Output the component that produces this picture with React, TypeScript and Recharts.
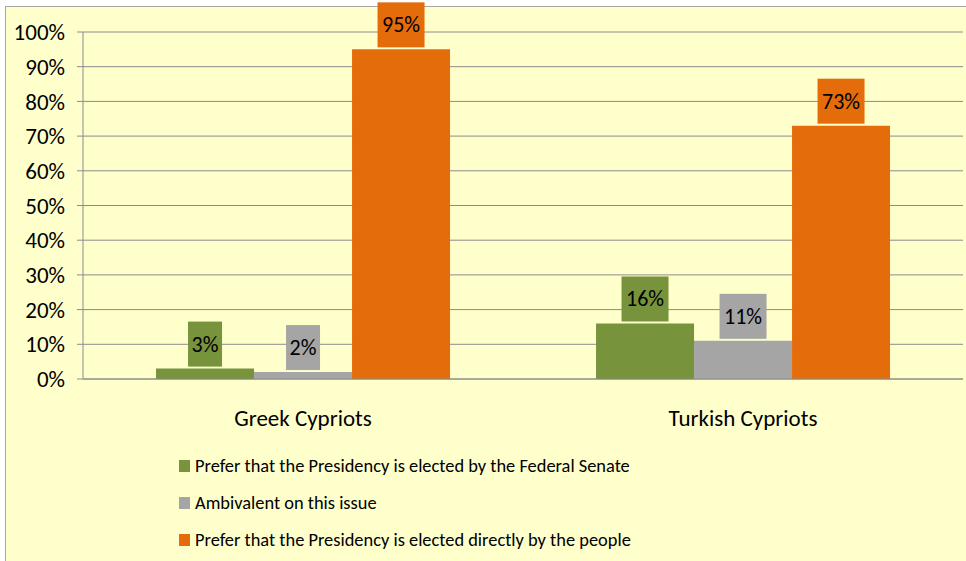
import { BarChart, Bar, XAxis, YAxis, CartesianGrid, LabelList } from 'recharts';

const groups = ['Greek Cypriots', 'Turkish Cypriots'];
const senate = [3, 16];
const ambivalent = [2, 11];
const direct = [95, 73];
const yTicks = [0, 10, 20, 30, 40, 50, 60, 70, 80, 90, 100];

const seriesNames = [
  'Prefer that the Presidency is elected by the Federal Senate',
  'Ambivalent on this issue',
  'Prefer that the Presidency is elected directly by the people',
];
const colors = ['#77933C', '#A5A5A5', '#E46C0A'];

const data = groups.map((g, i) => ({
  group: g,
  senate: senate[i],
  ambivalent: ambivalent[i],
  direct: direct[i],
}));

const FONT = 'Carlito, Calibri, Lato, sans-serif';

function boxLabel(color: string) {
  return (props: any) => {
    const { x, y, width, value } = props;
    const text = `${value}%`;
    const w = text.length * 13 + 8;
    const h = 45;
    const cx = x + width / 2;
    const bottom = y - 2;
    return (
      <g>
        <rect x={cx - w / 2} y={bottom - h} width={w} height={h} fill={color} />
        <text
          x={cx}
          y={bottom - h / 2}
          textAnchor="middle"
          dominantBaseline="central"
          fontSize={22}
          fontFamily={FONT}
          fill="#000"
        >
          {text}
        </text>
      </g>
    );
  };
}

function LegendBox() {
  return (
    <div
      style={{
        position: 'absolute',
        left: 179,
        top: 447,
        fontFamily: FONT,
        fontSize: 18.4,
        color: '#000',
      }}
    >
      {seriesNames.map((n, i) => (
        <div key={n} style={{ display: 'flex', alignItems: 'center', height: 37 }}>
          <span style={{ width: 11, height: 12, background: colors[i], marginRight: 5 }} />
          <span>{n}</span>
        </div>
      ))}
    </div>
  );
}

export default function App() {
  return (
    <div style={{ position: 'absolute', left: 0, top: 0, width: 966, height: 561, overflow: 'hidden' }}>
      <div
        style={{
          position: 'absolute',
          left: 5,
          top: 6,
          width: 980,
          height: 580,
          background: '#FFFFCC',
          border: '1px solid #A6A6A6',
        }}
      />
      <BarChart
        width={966}
        height={561}
        data={data}
        margin={{ top: 32, right: 3, left: 0, bottom: 0 }}
        barCategoryGap="16.6%"
        barGap={0}
        style={{ position: 'absolute', left: 0, top: 0 }}
      >
        <CartesianGrid vertical={false} stroke="#8C8C8C" />
        <XAxis
          xAxisId="b"
          type="number"
          domain={[0, 2]}
          ticks={[0, 1, 2]}
          height={0}
          tickSize={6}
          tick={() => <g />}
          axisLine={false}
          stroke="#8C8C8C"
        />
        <XAxis
          dataKey="group"
          height={182}
          tickLine={false}
          tickSize={0}
          tickMargin={31}
          axisLine={{ stroke: '#8C8C8C' }}
          tick={{ fill: '#000', fontSize: 23, fontFamily: FONT }}
        />
        <YAxis
          width={83}
          domain={[0, 100]}
          ticks={yTicks}
          interval={0}
          tickFormatter={(v: number) => `${v}%`}
          tickSize={6}
          tickMargin={12}
          stroke="#8C8C8C"
          tick={{ fill: '#000', fontSize: 23, fontFamily: FONT }}
        />
        <Bar dataKey="senate" name={seriesNames[0]} fill={colors[0]} isAnimationActive={false}>
          <LabelList dataKey="senate" content={boxLabel(colors[0])} />
        </Bar>
        <Bar dataKey="ambivalent" name={seriesNames[1]} fill={colors[1]} isAnimationActive={false}>
          <LabelList dataKey="ambivalent" content={boxLabel(colors[1])} />
        </Bar>
        <Bar dataKey="direct" name={seriesNames[2]} fill={colors[2]} isAnimationActive={false}>
          <LabelList dataKey="direct" content={boxLabel(colors[2])} />
        </Bar>
      </BarChart>
      <LegendBox />
    </div>
  );
}
